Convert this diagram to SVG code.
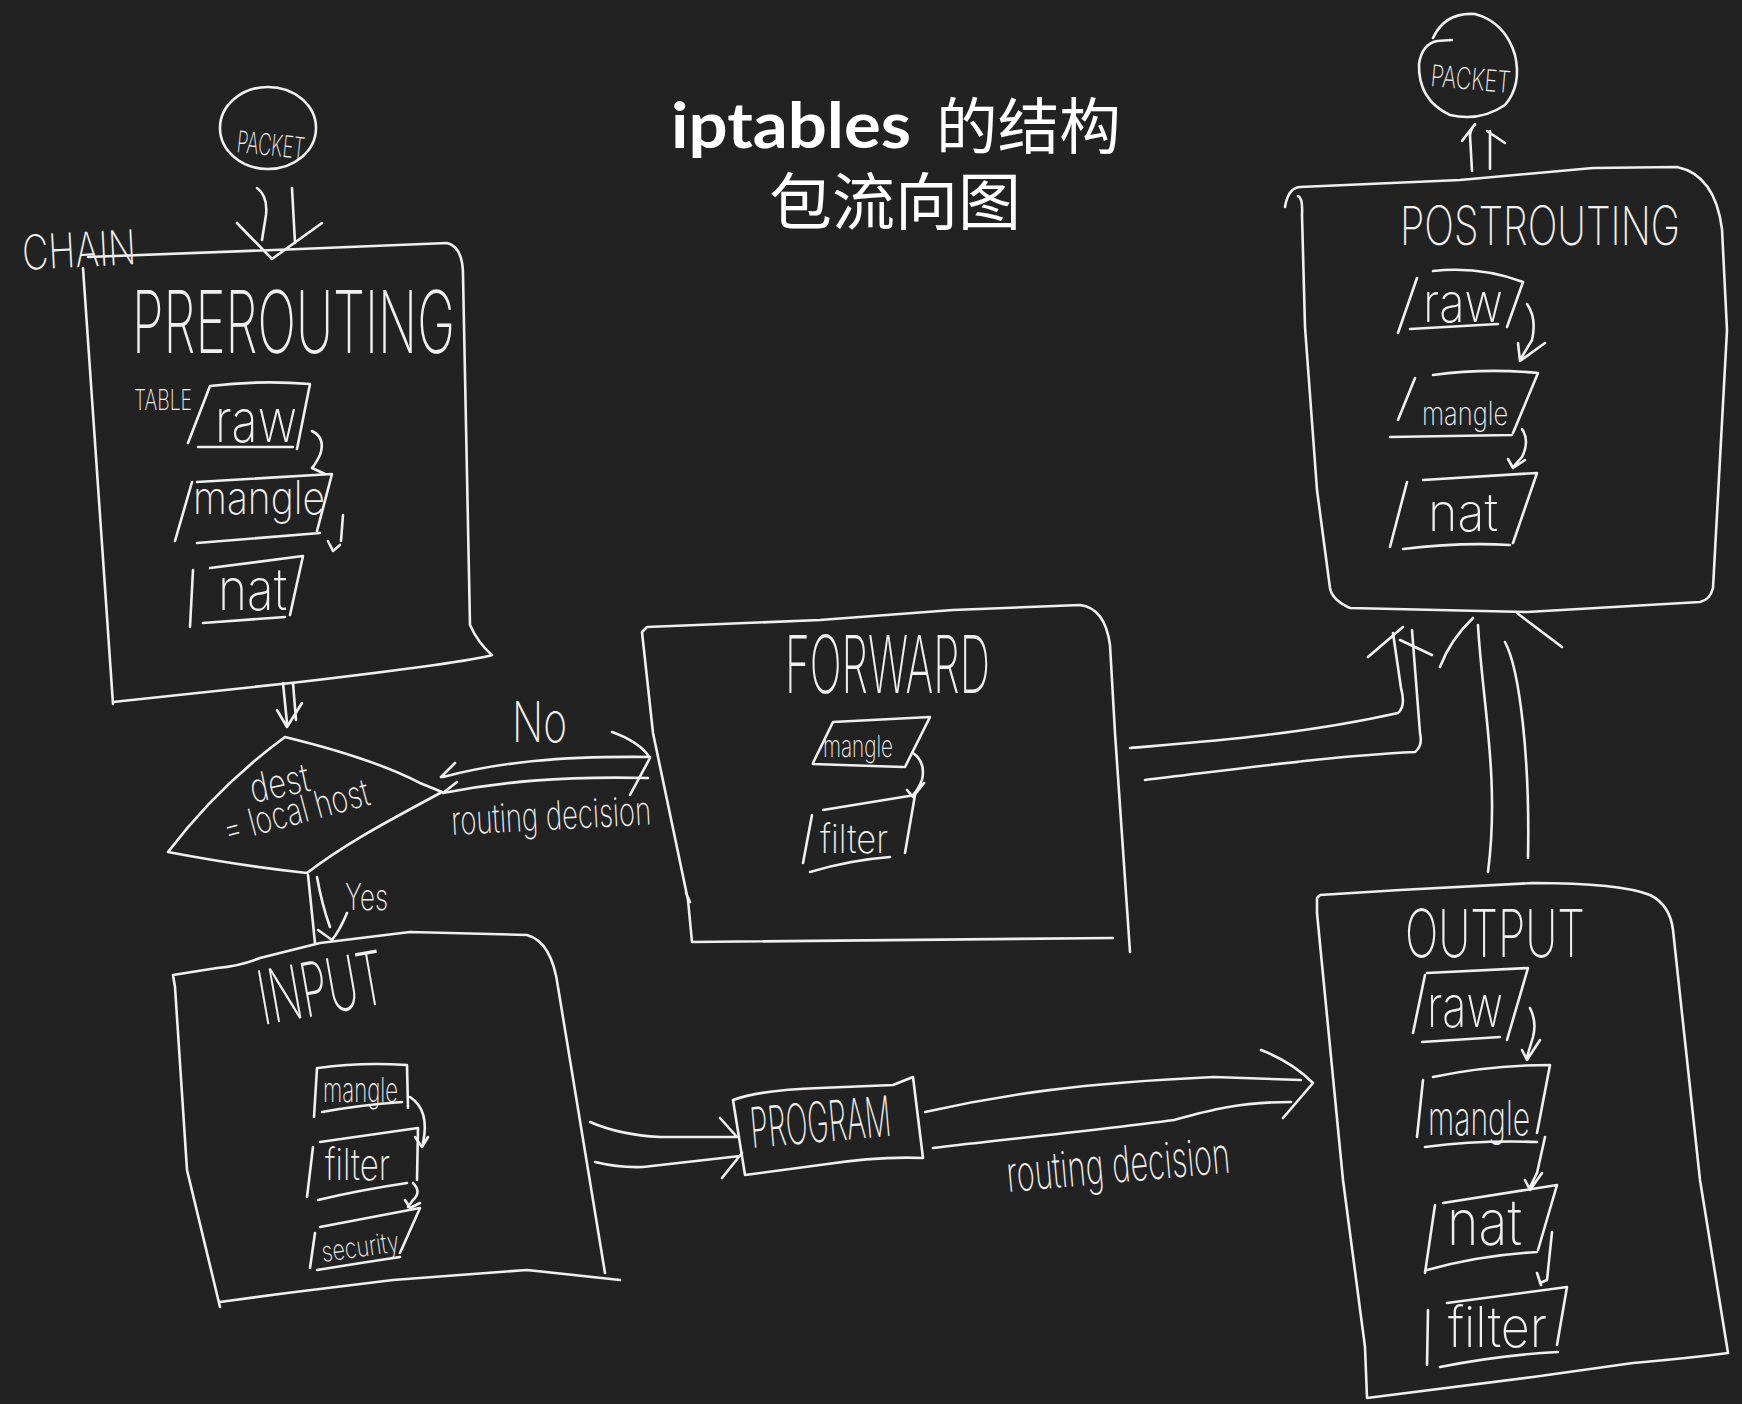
<svg xmlns="http://www.w3.org/2000/svg" width="1742" height="1404" viewBox="0 0 1742 1404">
<style>
.s{fill:none;stroke:#f0f0f0;stroke-width:2.6;stroke-linecap:round;stroke-linejoin:round}
.t{fill:#f0f0f0;font-family:Inter,'DejaVu Sans','Liberation Sans',sans-serif;font-weight:250}
.ti{fill:#ffffff;font-family:Lato,'Liberation Sans',sans-serif;font-weight:700}
.tc{fill:#ffffff;font-family:'Noto Sans CJK SC','Noto Sans CJK TC',sans-serif;font-weight:400}
</style>
<rect width="1742" height="1404" fill="#222222"/>

<g id="title">
<text class="ti" x="671" y="148" font-size="64" textLength="240" lengthAdjust="spacingAndGlyphs">iptables</text>
<text class="tc" x="936" y="149" font-size="61" textLength="185" lengthAdjust="spacingAndGlyphs">的结构</text>
<text class="tc" x="769" y="225" font-size="62" textLength="252" lengthAdjust="spacingAndGlyphs">包流向图</text>
</g>

<g id="connectors">
<!-- packet in -> PREROUTING -->
<path class="s" d="M257 188 Q268 196 266 215 L262 240 M292 188 L295 243 M237 223 L272 259 L322 223"/>
<!-- PREROUTING -> decision -->
<path class="s" d="M283 683 L287 723 M293 683 L296 720 M277 710 L287 727 L302 703"/>
<!-- decision -> FORWARD (No) -->
<path class="s" d="M443 777 C500 762 560 756 650 757 M443 793 C500 782 560 776 648 778 M455 763 L441 777 M457 782 L443 793 M612 732 Q640 742 650 758 L630 795"/>
<!-- decision -> INPUT (Yes) -->
<path class="s" d="M308 875 L315 943 M317 877 Q322 905 330 927 M347 913 Q340 930 332 940 L318 930"/>
<!-- INPUT -> PROGRAM -->
<path class="s" d="M590 1122 Q620 1135 660 1137 L737 1137 M595 1162 Q620 1168 643 1167 L740 1156 M720 1118 L737 1137 M722 1178 L742 1153"/>
<!-- PROGRAM -> OUTPUT -->
<path class="s" d="M925 1112 C1000 1095 1080 1083 1214 1077 L1301 1080 M933 1148 C1000 1140 1100 1130 1174 1120 C1210 1110 1240 1102 1291 1102 M1261 1050 Q1292 1062 1313 1083 L1283 1118"/>
<!-- FORWARD -> POSTROUTING -->
<path class="s" d="M1130 748 C1200 742 1300 735 1398 713 Q1406 706 1401 688 L1393 633 M1145 780 C1230 770 1330 756 1415 752 Q1423 746 1420 733 L1412 630 M1368 657 L1403 627 M1400 640 L1432 655"/>
<!-- OUTPUT -> POSTROUTING -->
<path class="s" d="M1478 625 C1482 700 1500 780 1488 872 M1505 642 C1520 670 1530 760 1528 858 M1440 667 Q1450 640 1473 618 M1517 613 L1562 647"/>
<!-- POSTROUTING -> packet out -->
<path class="s" d="M1472 171 L1470 135 Q1471 128 1475 125 M1490 169 L1490 131 M1462 141 L1475 124 M1487 131 L1505 143"/>
<text class="t" x="512" y="742" font-size="56" textLength="55" lengthAdjust="spacingAndGlyphs">No</text>
<text class="t" x="452" y="835" font-size="40" textLength="200" lengthAdjust="spacingAndGlyphs" transform="rotate(-3 452 835)">routing decision</text>
<text class="t" x="345" y="910" font-size="36" textLength="43" lengthAdjust="spacingAndGlyphs">Yes</text>
<text class="t" x="1008" y="1192" font-size="50" textLength="224" lengthAdjust="spacingAndGlyphs" transform="rotate(-5 1008 1192)">routing decision</text>
</g>

<g id="packet-in">
<ellipse class="s" cx="268" cy="128" rx="48" ry="41"/>
<text class="t" x="236" y="152" font-size="30" textLength="68" lengthAdjust="spacingAndGlyphs" transform="rotate(6 236 152)">PACKET</text>
</g>

<g id="prerouting">
<path class="s" d="M88 257 L300 249 L447 243 Q463 247 463 275 L470 625 Q478 643 492 655 Q470 662 300 682 L113 702 M83 268 L113 704"/>
<text class="t" x="23" y="270" font-size="48" textLength="114" lengthAdjust="spacingAndGlyphs" transform="rotate(-3 23 270)">CHAIN</text>
<text class="t" x="132" y="353" font-size="86" textLength="323" lengthAdjust="spacingAndGlyphs">PREROUTING</text>
<text class="t" x="134" y="410" font-size="28" textLength="58" lengthAdjust="spacingAndGlyphs">TABLE</text>
<g id="pre-raw">
<path class="s" d="M188 443 L210 386 Q260 380 310 384 L297 449 M198 447 L293 447"/>
<text class="t" x="215" y="442" font-size="60" textLength="82" lengthAdjust="spacingAndGlyphs">raw</text>
</g>
<path class="s" d="M312 431 Q326 438 320 455 Q315 465 312 468 L325 474"/>
<g id="pre-mangle">
<path class="s" d="M175 541 L192 482 M197 482 L332 474 L317 531 M197 543 L320 533"/>
<text class="t" x="193" y="514" font-size="46" textLength="132" lengthAdjust="spacingAndGlyphs">mangle</text>
</g>
<path class="s" d="M343 515 L341 541 M328 541 L333 551 L340 545"/>
<g id="pre-nat">
<path class="s" d="M190 627 L193 570 M210 568 L303 556 L290 615 M203 623 L285 617"/>
<text class="t" x="218" y="610" font-size="58" textLength="69" lengthAdjust="spacingAndGlyphs">nat</text>
</g>
</g>

<g id="decision">
<path class="s" d="M285 737 C330 748 380 762 420 783 L442 792 C400 815 350 840 307 873 C260 868 210 860 168 852 C200 810 240 770 285 737 Z"/>
<text class="t" x="253" y="803" font-size="40" textLength="60" lengthAdjust="spacingAndGlyphs" transform="rotate(-12 253 803)">dest</text>
<text class="t" x="227" y="843" font-size="38" textLength="150" lengthAdjust="spacingAndGlyphs" transform="rotate(-15 227 843)">= local host</text>
</g>

<g id="forward">
<path class="s" d="M642 632 L647 627 L820 620 L953 610 L1080 605 Q1105 608 1110 645 L1115 733 L1130 952 M692 942 L1113 938 M642 632 L653 733 L688 900 L692 942 M686 893 L690 902"/>
<text class="t" x="785" y="693" font-size="80" textLength="205" lengthAdjust="spacingAndGlyphs">FORWARD</text>
<g id="fwd-mangle">
<path class="s" d="M813 763 L833 722 L930 717 L905 767 M813 764 L903 767"/>
<text class="t" x="823" y="757" font-size="30" textLength="70" lengthAdjust="spacingAndGlyphs">mangle</text>
</g>
<path class="s" d="M913 753 Q926 762 922 780 Q918 790 913 795 M907 790 L913 797 L924 783"/>
<g id="fwd-filter">
<path class="s" d="M823 810 L915 795 L905 853 M812 815 L803 863 M810 872 Q850 860 890 857"/>
<text class="t" x="820" y="853" font-size="40" textLength="68" lengthAdjust="spacingAndGlyphs">filter</text>
</g>
</g>

<g id="input">
<path class="s" d="M173 975 L217 968 Q240 966 260 958 L320 943 L410 932 L527 935 Q552 942 558 987 L605 1273 M620 1280 L527 1270 L393 1280 L287 1293 L220 1302 M173 975 L175 987 L187 1170 L220 1307"/>
<text class="t" x="263" y="1025" font-size="75" textLength="127" lengthAdjust="spacingAndGlyphs" transform="rotate(-10 263 1025)">INPUT</text>
<g id="in-mangle">
<path class="s" d="M318 1068 Q360 1062 407 1065 L408 1108 M317 1068 L314 1117 M322 1112 Q360 1105 402 1102"/>
<text class="t" x="323" y="1102" font-size="34" textLength="75" lengthAdjust="spacingAndGlyphs">mangle</text>
</g>
<path class="s" d="M410 1097 Q430 1110 423 1143 M415 1137 L422 1147 L428 1137"/>
<g id="in-filter">
<path class="s" d="M320 1142 L418 1128 L417 1180 M313 1147 L307 1197 M318 1200 Q360 1190 407 1183"/>
<text class="t" x="325" y="1180" font-size="44" textLength="65" lengthAdjust="spacingAndGlyphs">filter</text>
</g>
<path class="s" d="M413 1183 Q422 1192 413 1200 L408 1207 M405 1200 L410 1208 L420 1203"/>
<g id="in-security">
<path class="s" d="M320 1227 L420 1208 L400 1253 M315 1233 L310 1268 M317 1270 Q360 1263 400 1257"/>
<text class="t" x="323" y="1262" font-size="28" textLength="78" lengthAdjust="spacingAndGlyphs" transform="rotate(-8 323 1262)">security</text>
</g>
</g>

<g id="program">
<path class="s" d="M733 1100 Q760 1090 820 1088 L893 1085 L913 1077 L923 1158 Q880 1156 820 1165 L745 1175 L733 1100"/>
<text class="t" x="752" y="1148" font-size="56" textLength="141" lengthAdjust="spacingAndGlyphs" transform="rotate(-5 752 1148)">PROGRAM</text>
</g>

<g id="output">
<path class="s" d="M1317 898 L1320 895 L1400 890 L1533 883 Q1620 883 1650 895 Q1670 905 1673 930 L1700 1180 L1728 1353 Q1690 1358 1633 1363 L1533 1377 L1367 1398 M1317 898 L1317 913 L1343 1180 L1365 1347 L1367 1398"/>
<text class="t" x="1405" y="957" font-size="66" textLength="180" lengthAdjust="spacingAndGlyphs">OUTPUT</text>
<g id="out-raw">
<path class="s" d="M1413 1033 L1425 975 M1427 973 L1528 968 L1507 1040 M1422 1042 L1500 1037"/>
<text class="t" x="1427" y="1027" font-size="58" textLength="76" lengthAdjust="spacingAndGlyphs">raw</text>
</g>
<path class="s" d="M1530 1008 Q1537 1022 1533 1037 L1527 1057 M1522 1050 L1527 1060 L1540 1040"/>
<g id="out-mangle">
<path class="s" d="M1417 1137 L1423 1080 M1433 1077 Q1490 1065 1550 1065 L1537 1133 M1425 1147 Q1480 1140 1537 1142"/>
<text class="t" x="1428" y="1135" font-size="48" textLength="102" lengthAdjust="spacingAndGlyphs">mangle</text>
</g>
<path class="s" d="M1545 1137 L1537 1173 L1530 1187 M1525 1180 L1530 1190 L1542 1173"/>
<g id="out-nat">
<path class="s" d="M1425 1273 L1435 1205 M1443 1203 L1557 1185 L1538 1250 M1427 1270 Q1480 1255 1537 1252"/>
<text class="t" x="1447" y="1245" font-size="64" textLength="75" lengthAdjust="spacingAndGlyphs">nat</text>
</g>
<path class="s" d="M1552 1232 L1547 1280 L1540 1283 M1537 1273 L1541 1285"/>
<g id="out-filter">
<path class="s" d="M1428 1310 L1427 1365 M1447 1303 L1567 1287 L1557 1345 M1440 1367 Q1500 1355 1558 1352"/>
<text class="t" x="1448" y="1347" font-size="56" textLength="99" lengthAdjust="spacingAndGlyphs">filter</text>
</g>
</g>

<g id="postrouting">
<path class="s" d="M1285 207 Q1288 188 1300 187 L1460 180 L1593 168 L1677 167 Q1715 175 1722 229 L1727 330 L1713 588 Q1710 600 1700 602 L1527 612 L1350 608 Q1332 600 1330 588 L1317 490 L1305 327 L1302 215 Q1303 198 1298 196"/>
<text class="t" x="1400" y="245" font-size="54" textLength="280" lengthAdjust="spacingAndGlyphs">POSTROUTING</text>
<g id="post-raw">
<path class="s" d="M1398 333 L1417 278 M1433 271 Q1480 266 1523 282 L1507 327 M1410 329 L1498 324"/>
<text class="t" x="1423" y="322" font-size="55" textLength="80" lengthAdjust="spacingAndGlyphs">raw</text>
</g>
<path class="s" d="M1527 304 Q1537 318 1532 340 L1520 360 M1518 343 L1520 361 L1545 343"/>
<g id="post-mangle">
<path class="s" d="M1398 420 L1415 378 M1433 375 Q1485 368 1538 373 L1513 433 M1390 437 L1512 435"/>
<text class="t" x="1422" y="425" font-size="32" textLength="86" lengthAdjust="spacingAndGlyphs">mangle</text>
</g>
<path class="s" d="M1522 429 Q1530 441 1522 457 L1513 467 M1508 459 L1513 468 L1525 460"/>
<g id="post-nat">
<path class="s" d="M1390 547 L1407 482 M1423 480 L1537 473 L1513 543 M1403 549 Q1460 542 1510 545"/>
<text class="t" x="1428" y="531" font-size="52" textLength="70" lengthAdjust="spacingAndGlyphs">nat</text>
</g>
</g>

<g id="packet-out">
<path class="s" d="M1452 40 L1437 41 Q1422 44 1419 64 Q1418 100 1450 115 Q1480 122 1505 105 Q1522 85 1515 55 Q1505 22 1475 14 Q1445 12 1433 38"/>
<text class="t" x="1430" y="86" font-size="30" textLength="80" lengthAdjust="spacingAndGlyphs" transform="rotate(5 1430 86)">PACKET</text>
</g>
</svg>
